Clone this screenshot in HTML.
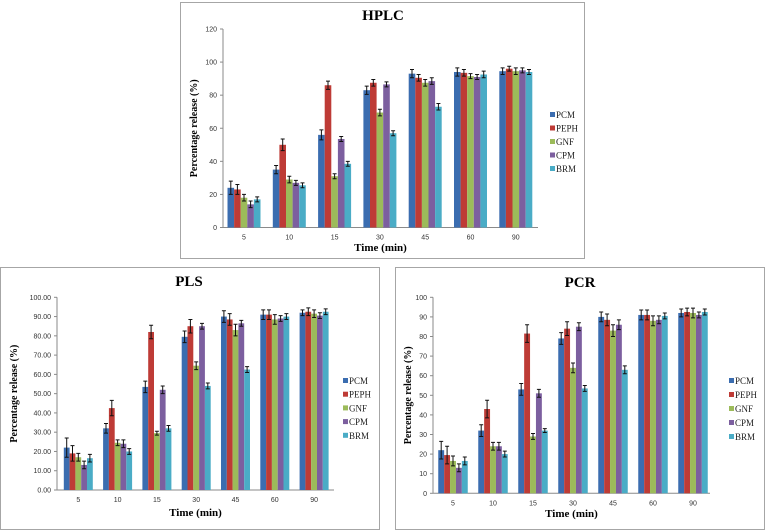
<!DOCTYPE html>
<html><head><meta charset="utf-8">
<style>
html,body{margin:0;padding:0;background:#fff;width:766px;height:530px;overflow:hidden}
svg{display:block}
</style></head>
<body>
<svg id="fig" width="766" height="530" viewBox="0 0 766 530" xmlns="http://www.w3.org/2000/svg"></svg>
<script>
const categories = ["5","10","15","30","45","60","90"];
const seriesNames = ["PCM","PEPH","GNF","CPM","BRM"];
const seriesColors = ["#3b6db0","#be3b36","#9cbb5a","#7c5f9f","#4aacc6"];

const hplcPCM  = [24,35,56,83,93,94,94.5];
const hplcPEPH = [23,50,86,87.5,90.5,93.5,96];
const hplcGNF  = [18,29,31,69.5,87.5,91.5,94.5];
const hplcCPM  = [14,27,53.5,86.5,88.5,91,95];
const hplcBRM  = [17,25.5,38.5,57,73,92.5,94];
const hplcErr  = [[4,2.5,3,2.5,2.5,2.5,2],[3,3.5,2.5,2,2,2,1.5],[2,2,1.5,2,2,1.5,2],[2,1.5,1.5,1.5,2,1.5,1.5],[1.5,1.5,1.5,1.5,2,2,1.5]];
const hplcTicks = ["0","20","40","60","80","100","120"];

const plsPCM  = [22,32,53.5,79.5,90,91,92];
const plsPEPH = [19,42.5,82,85,88.5,91,92.5];
const plsGNF  = [17,24.5,29.5,64.5,83,88.5,91.5];
const plsCPM  = [13,24,52,85,86.5,89,90.5];
const plsBRM  = [16.5,20,32,54,62.5,90,92.5];
const plsErr  = [[5,2.5,3,3,3,2.5,1.5],[4,4,3.5,3.5,3,2.5,2],[2,1.5,1,2,3,2.5,2],[2,2,2,1.5,1.5,1.5,1.5],[2,1.5,1.5,1.5,1.5,1.5,1.5]];
const plsTicks = ["0.00","10.00","20.00","30.00","40.00","50.00","60.00","70.00","80.00","90.00","100.00"];

const pcrPCM  = [22,32,53,79,90,91,92];
const pcrPEPH = [19.5,43,81.5,84,88.5,91,92.5];
const pcrGNF  = [16.5,24,29,64,83,88,92];
const pcrCPM  = [13,24,51,85,86,88.5,91];
const pcrBRM  = [16.5,20,32,53.5,63,90.5,92.5];
const pcrErr  = [[4.5,3,3,3,2.5,2.5,2],[4.5,4.5,4.5,3.5,3,2.5,2],[2.5,2,1.5,2.5,3,2.5,2.5],[2,2,2,2,2.5,2,1.5],[2,1.5,1,1.5,2,1.5,1.5]];
const pcrTicks = ["0","10","20","30","40","50","60","70","80","90","100"];

const NS = "http://www.w3.org/2000/svg";
const svg = document.getElementById("fig");
function mk(tag, attrs, parent, text){
  const e = document.createElementNS(NS, tag);
  for (const k in attrs) e.setAttribute(k, attrs[k]);
  if (text !== undefined) e.textContent = text;
  (parent||svg).appendChild(e);
  return e;
}

function drawChart(cfg){
  const g = mk("g", {});
  
  
  const fr = mk("rect", {x:cfg.frame[0], y:cfg.frame[1], width:cfg.frame[2], height:cfg.frame[3], fill:"#fff", stroke:"#a6a6a6", "stroke-width":1}, g);
  
  
  const t = mk("text", {x:cfg.titleX, y:cfg.titleY, "text-anchor":"middle", "font-family":"Liberation Serif, serif", "font-weight":"bold", "font-size":15}, g, cfg.title);
  
  
  const yMax = cfg.yMax, nT = cfg.ticks.length - 1;
  const yS = v => cfg.y0 - (v / yMax) * (cfg.y0 - cfg.yTop);
  const xS = i => cfg.c0 + i * cfg.step;
  const ya = mk("line", {x1:cfg.x0, y1:cfg.yTop, x2:cfg.x0, y2:cfg.y0, stroke:"#8a8a8a", "stroke-width":1}, g);
  
  
  cfg.ticks.forEach((lab, i) => {
    const v = yMax * i / nT, y = yS(v);
    mk("line", {x1:cfg.x0-3, y1:y, x2:cfg.x0, y2:y, stroke:"#8a8a8a"}, g);
    const tl = mk("text", {x:cfg.x0-6, y:y+2.5, "text-anchor":"end", "font-family":"Liberation Sans, sans-serif", "font-size":7, fill:"#333"}, g, lab);
    
    
  });
  const xa = mk("line", {x1:cfg.x0, y1:cfg.y0, x2:cfg.xEnd, y2:cfg.y0, stroke:"#8a8a8a", "stroke-width":1}, g);
  
  
  const bw = cfg.bw;
  categories.forEach((c, i) => {
    const cx = xS(i);
    const xl = mk("text", {x:cx, y:cfg.y0+12, "text-anchor":"middle", "font-family":"Liberation Sans, sans-serif", "font-size":7, fill:"#333"}, g, c);
    
    
    cfg.series.forEach((s, j) => {
      const v = s[i], bx = cx - 2.5*bw + j*bw;
      const r = mk("rect", {x:bx, y:yS(v), width:bw, height:cfg.y0 - yS(v), fill:seriesColors[j]}, g);
      
      
      const e = cfg.err[j][i], mx = bx + bw/2;
      const eb = mk("path", {d:`M${mx} ${yS(v+e)}V${yS(v-e)}M${mx-2} ${yS(v+e)}H${mx+2}M${mx-2} ${yS(v-e)}H${mx+2}`, stroke:"#111", "stroke-width":1, fill:"none"}, g);
      
      
    });
  });
  const yt = mk("text", {x:0, y:0, transform:`translate(${cfg.yTitleX},${(cfg.y0+cfg.yTop)/2}) rotate(-90)`, "text-anchor":"middle", "font-family":"Liberation Serif, serif", "font-weight":"bold", "font-size":10}, g, "Percentage release (%)");
  
  
  const xt = mk("text", {x:(cfg.x0+cfg.xEnd)/2, y:cfg.xTitleY, "text-anchor":"middle", "font-family":"Liberation Serif, serif", "font-weight":"bold", "font-size":11}, g, "Time (min)");
  
  
  seriesNames.forEach((n, j) => {
    const ly = cfg.legY + j*cfg.legStep;
    const le = mk("g", {}, g);
    
    
    mk("rect", {x:cfg.legX, y:ly-3, width:5, height:5, fill:seriesColors[j]}, le);
    mk("text", {x:cfg.legX+6, y:ly+3, "font-family":"Liberation Serif, serif", "font-size":9, fill:"#222"}, le, n);
  });
}

drawChart({name:"hplc", title:"HPLC", frame:[180.5,2.5,404,256], titleX:383, titleY:20,
  x0:223, xEnd:538, y0:227.5, yTop:29, yMax:120, ticks:hplcTicks, c0:244, step:45.3, bw:6.6,
  series:[hplcPCM,hplcPEPH,hplcGNF,hplcCPM,hplcBRM], err:hplcErr,
  yTitleX:197, xTitleY:251, legX:550, legY:115, legStep:13.5});
drawChart({name:"pls", title:"PLS", frame:[0.5,267.5,379,262], titleX:189, titleY:286,
  x0:57, xEnd:334, y0:490, yTop:297.3, yMax:100, ticks:plsTicks, c0:78.3, step:39.3, bw:5.8,
  series:[plsPCM,plsPEPH,plsGNF,plsCPM,plsBRM], err:plsErr,
  yTitleX:17, xTitleY:516, legX:343, legY:381, legStep:13.7});
drawChart({name:"pcr", title:"PCR", frame:[395.5,267.5,369,262], titleX:580, titleY:287,
  x0:433, xEnd:710, y0:493.3, yTop:297.3, yMax:100, ticks:pcrTicks, c0:453, step:40, bw:5.9,
  series:[pcrPCM,pcrPEPH,pcrGNF,pcrCPM,pcrBRM], err:pcrErr,
  yTitleX:411, xTitleY:517, legX:729, legY:381, legStep:14});
</script>
</body></html>
